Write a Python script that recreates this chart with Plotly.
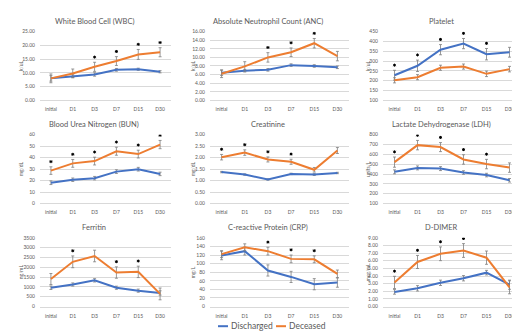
import plotly.graph_objects as go

categories = ["initial", "D1", "D3", "D7", "D15", "D30"]
series_names = ["Discharged", "Deceased"]

titles = ["White Blood Cell (WBC)", "Absolute Neutrophil Count (ANC)", "Platelet",
          "Blood Urea Nitrogen (BUN)", "Creatinine", "Lactate Dehydrogenase (LDH)",
          "Ferritin", "C-reactive Protein (CRP)", "D-DIMER"]
units = ["k/uL", "k/uL", "k/uL", "mg/dL", "mg/dL", "units/L", "ng/mL", "mg/L", "mcg/mL"]
y_min = [0, 0, 100, 0, 0, 100, 0, 0, 0]
y_max = [25, 16, 450, 60, 3, 800, 3500, 160, 9]
y_step = [5, 2, 50, 10, 0.5, 100, 500, 20, 1]
y_fmt = [".2f", ".2f", "d", "d", ".2f", "d", "d", "d", ".2f"]

wbc_dis = [8.0, 8.8, 9.4, 11.1, 11.3, 10.4]
wbc_dis_err = [1.0, 0.5, 0.6, 0.5, 0.4, 0.4]
wbc_dec = [8.0, 9.8, 12.2, 14.3, 16.7, 17.5]
wbc_dec_err = [1.6, 1.6, 1.65, 1.6, 1.8, 1.65]
wbc_sig = [0, 0, 1, 1, 1, 1]

anc_dis = [6.4, 6.9, 7.1, 8.2, 8.0, 7.7]
anc_dis_err = [0.6, 0.3, 0.3, 0.3, 0.3, 0.3]
anc_dec = [6.2, 7.9, 10.0, 11.2, 13.3, 10.3]
anc_dec_err = [0.9, 1.1, 1.1, 1.0, 1.1, 1.1]
anc_sig = [0, 0, 1, 1, 1, 0]

plt_dis = [228, 276, 358, 389, 335, 345]
plt_dis_err = [25, 29, 26, 26, 29, 25]
plt_dec = [202, 218, 266, 272, 235, 259]
plt_dec_err = [13, 13, 13, 13, 14, 14]
plt_sig = [1, 1, 1, 1, 1, 0]

bun_dis = [18.1, 20.7, 22.1, 27.8, 29.9, 25.8]
bun_dis_err = [1.6, 1.5, 1.5, 1.6, 1.6, 1.5]
bun_dec = [28.7, 35.0, 37.0, 45.6, 43.1, 51.4]
bun_dec_err = [3.3, 3.4, 3.4, 3.5, 3.4, 3.6]
bun_sig = [1, 1, 1, 1, 1, 1]

cre_dis = [1.37, 1.26, 1.05, 1.29, 1.26, 1.33]
cre_dis_err = [0.03, 0.03, 0.03, 0.03, 0.04, 0.03]
cre_dec = [2.02, 2.22, 1.92, 1.82, 1.47, 2.31]
cre_dec_err = [0.12, 0.12, 0.11, 0.11, 0.1, 0.13]
cre_sig = [1, 1, 1, 1, 0, 0]

ldh_dis = [422, 462, 455, 415, 389, 336]
ldh_dis_err = [20, 20, 20, 18, 18, 18]
ldh_dec = [521, 694, 674, 548, 501, 465]
ldh_dec_err = [52, 48, 46, 48, 48, 48]
ldh_sig = [1, 1, 1, 1, 1, 0]

fer_dis = [958, 1123, 1337, 958, 809, 693]
fer_dis_err = [90, 80, 85, 80, 80, 110]
fer_dec = [1403, 2278, 2575, 1733, 1766, 644]
fer_dec_err = [280, 300, 295, 290, 290, 300]
fer_sig = [0, 1, 0, 1, 1, 0]

crp_dis = [119, 129, 84, 69, 52, 56]
crp_dis_err = [10, 9, 13, 13, 13, 11]
crp_dec = [122, 138, 129, 111, 110, 76]
crp_dec_err = [8, 8, 9, 9, 8, 9]
crp_sig = [0, 0, 1, 1, 1, 0]

dd_dis = [1.92, 2.39, 3.11, 3.71, 4.44, 2.86]
dd_dis_err = [0.3, 0.35, 0.35, 0.35, 0.3, 0.6]
dd_dec = [3.16, 5.84, 6.91, 7.34, 6.40, 2.52]
dd_dec_err = [0.8, 0.85, 0.9, 0.9, 0.87, 0.85]
dd_sig = [1, 1, 1, 1, 0, 0]

panels = [
    (wbc_dis, wbc_dis_err, wbc_dec, wbc_dec_err, wbc_sig),
    (anc_dis, anc_dis_err, anc_dec, anc_dec_err, anc_sig),
    (plt_dis, plt_dis_err, plt_dec, plt_dec_err, plt_sig),
    (bun_dis, bun_dis_err, bun_dec, bun_dec_err, bun_sig),
    (cre_dis, cre_dis_err, cre_dec, cre_dec_err, cre_sig),
    (ldh_dis, ldh_dis_err, ldh_dec, ldh_dec_err, ldh_sig),
    (fer_dis, fer_dis_err, fer_dec, fer_dec_err, fer_sig),
    (crp_dis, crp_dis_err, crp_dec, crp_dec_err, crp_sig),
    (dd_dis, dd_dis_err, dd_dec, dd_dec_err, dd_sig),
]

W, H = 520, 332
BLUE = "#4472C4"
ORANGE = "#ED7D31"
GRID = "#D9D9D9"
TXT = "#595959"
FONT = "Lato"

col_px = [(32, 163), (202, 341), (375, 513)]
panel_px = [(0, 172), (172, 347), (347, 520)]
row_px = [(21, 91), (126, 196), (231, 301)]
title_py = [11, 116, 220]
ylab_off = 13

fig = go.Figure()
layout = dict(width=W, height=H, margin=dict(l=0, r=0, t=0, b=0),
              paper_bgcolor="white", plot_bgcolor="white", showlegend=False,
              font=dict(family=FONT, color=TXT))
annotations = []
shapes = []

for i, (dis, dis_e, dec, dec_e, sig) in enumerate(panels):
    r, c = divmod(i, 3)
    n = "" if i == 0 else str(i + 1)
    xa, ya = "x" + n, "y" + n
    x0, x1 = col_px[c]
    yt, yb = row_px[r]
    layout["xaxis" + n] = dict(domain=[x0 / W, x1 / W], anchor=ya,
                               type="category", categoryorder="array", categoryarray=categories,
                               range=[-0.5, 5.5], showgrid=False, showline=True,
                               linecolor=GRID, linewidth=1, ticks="",
                               tickfont=dict(size=5, color=TXT), ticklabelstandoff=4,
                               fixedrange=True)
    layout["yaxis" + n] = dict(domain=[1 - yb / H, 1 - yt / H], anchor=xa,
                               range=[y_min[i], y_max[i]], dtick=y_step[i], tick0=y_min[i],
                               tickformat=y_fmt[i], showgrid=True, gridcolor=GRID,
                               gridwidth=0.8, zeroline=False, showline=False, ticks="",
                               tickfont=dict(size=5, color=TXT), ticklabelstandoff=4,
                               fixedrange=True)
    for vals, errs, col, name in [(dis, dis_e, BLUE, series_names[0]),
                                  (dec, dec_e, ORANGE, series_names[1])]:
        fig.add_trace(go.Scatter(
            x=categories, y=vals, mode="lines", name=name, xaxis=xa, yaxis=ya,
            line=dict(color=col, width=2),
            error_y=dict(type="data", array=errs, visible=True, color="#7F7F7F",
                         thickness=0.8, width=1.5)))
    span = y_max[i] - y_min[i]
    sx, sy = [], []
    for k, s in enumerate(sig):
        if s:
            top = max(dis[k] + dis_e[k], dec[k] + dec_e[k])
            sx.append(categories[k])
            sy.append(top + 0.075 * span)
    fig.add_trace(go.Scatter(
        x=sx, y=sy, mode="markers", xaxis=xa, yaxis=ya, hoverinfo="skip",
        marker=dict(symbol="asterisk-open", size=2.5, color="black",
                    line=dict(color="black", width=1))))
    p0, p1 = panel_px[c]
    annotations.append(dict(text=titles[i], x=(p0 + p1) / 2 / W, y=1 - title_py[r] / H,
                            xref="paper", yref="paper", showarrow=False,
                            xanchor="center", yanchor="middle",
                            font=dict(size=7.5, color=TXT, family=FONT)))
    annotations.append(dict(text=units[i], x=(p0 + ylab_off) / W, y=1 - (yt + yb) / 2 / H,
                            xref="paper", yref="paper", showarrow=False, textangle=-90,
                            xanchor="center", yanchor="middle",
                            font=dict(size=5, color=TXT, family=FONT)))

# legend (drawn manually to match compact line samples)
leg_y = 1 - 321 / H
for (lx0, lx1, tx), name, col in [((210, 220, 221), series_names[0], BLUE),
                                  ((268, 278, 279), series_names[1], ORANGE)]:
    shapes.append(dict(type="line", xref="paper", yref="paper", x0=lx0 / W, x1=lx1 / W,
                       y0=leg_y, y1=leg_y, line=dict(color=col, width=2)))
    annotations.append(dict(text=name, x=tx / W, y=leg_y, xref="paper", yref="paper",
                            showarrow=False, xanchor="left", yanchor="middle",
                            font=dict(size=8.5, color=TXT, family=FONT)))

layout["annotations"] = annotations
layout["shapes"] = shapes
fig.update_layout(**layout)
fig.write_html("out.html")
